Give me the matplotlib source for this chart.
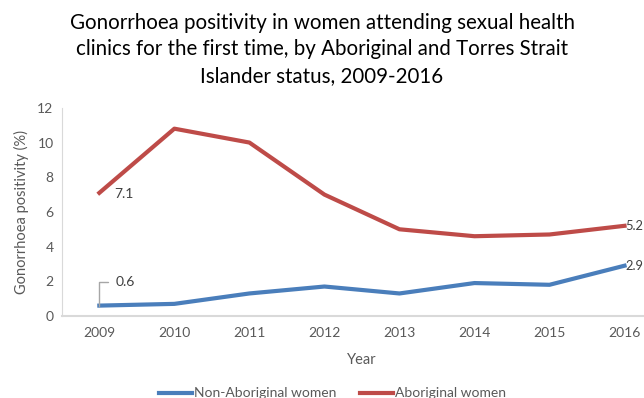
import matplotlib.pyplot as plt

years = ["2009", "2010", "2011", "2012", "2013", "2014", "2015", "2016"]
non_aboriginal = [0.6, 0.7, 1.3, 1.7, 1.3, 1.9, 1.8, 2.9]
aboriginal = [7.1, 10.8, 10.0, 7.0, 5.0, 4.6, 4.7, 5.2]

plt.rcParams['font.family'] = ['Lato', 'DejaVu Sans']
grey = '#595959'

fig = plt.figure(figsize=(6.44, 3.98), dpi=100)
ax = fig.add_axes([0.096, 0.206, 0.932, 0.523])

x = list(range(len(years)))
ax.plot(x, non_aboriginal, color='#4a7ebb', lw=3, label='Non-Aboriginal women')
ax.plot(x, aboriginal, color='#be4b48', lw=3, label='Aboriginal women')

ax.set_xlim(-0.5, len(years) - 0.5)
ax.set_ylim(0, 12)
ax.set_yticks(range(0, 13, 2))
ax.set_xticks(x)
ax.set_xticklabels(years)
ax.tick_params(length=0, colors=grey, labelsize=10, pad=6)
ax.tick_params(axis='x', pad=8)
for s in ['top', 'right']:
    ax.spines[s].set_visible(False)
ax.spines['left'].set_color('#d9d9d9')
ax.spines['bottom'].set_color('#d9d9d9')
ax.spines['bottom'].set_linewidth(1.5)

ax.set_xlabel('Year', color=grey, fontsize=10.5, labelpad=10)
ax.set_ylabel('Gonorrhoea positivity (%)', color=grey, fontsize=10.5, labelpad=6)

# data labels
ax.annotate(f'{aboriginal[0]}', (x[0], aboriginal[0]), xytext=(11, -1),
            textcoords='offset points', color='#404040', fontsize=10, va='center')
ax.annotate(f'{non_aboriginal[0]}', (x[0], non_aboriginal[0]), xytext=(12, 17),
            textcoords='offset points', color='#404040', fontsize=10, va='center',
            arrowprops=dict(arrowstyle='-', color='#a6a6a6', lw=1,
                            connectionstyle='angle,angleA=0,angleB=90,rad=0',
                            shrinkA=4, shrinkB=0))
# last-point labels pinned to the right edge of the figure
for val in (aboriginal[-1], non_aboriginal[-1]):
    ax.annotate(f'{val}', xy=(0.999, val), xycoords=('figure fraction', 'data'),
                color='#404040', fontsize=9.3, va='center', ha='right',
                annotation_clip=False)

fig.text(0.5, 0.968, 'Gonorrhoea positivity in women attending sexual health\n'
         'clinics for the first time, by Aboriginal and Torres Strait\n'
         'Islander status, 2009-2016', ha='center', va='top', fontsize=14.8,
         color='black', linespacing=1.42)

fig.legend(loc='lower center', bbox_to_anchor=(0.516, -0.035), ncol=2, frameon=False,
           fontsize=10, labelcolor=grey, handlelength=2.4, handletextpad=0.1,
           columnspacing=1.7)

fig.savefig('out.png', dpi=100)
